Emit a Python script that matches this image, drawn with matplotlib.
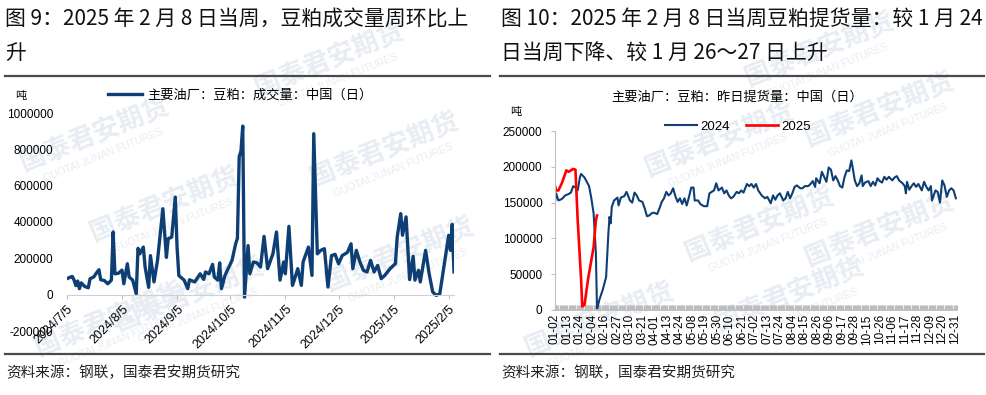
import matplotlib
matplotlib.use('Agg')
import matplotlib.pyplot as plt
from matplotlib.ticker import FuncFormatter
import pandas as pd

plt.rcParams['font.family'] = ['Liberation Sans', 'Noto Sans CJK SC']

NAVY = '#0e3f74'
RED = '#ff0000'
CJK = ['Noto Sans CJK SC', 'DejaVu Sans']

# ---- left: daily soymeal deal volume (t)
deal_dates = [
    '2024-07-05', '2024-07-07', '2024-07-08', '2024-07-09', '2024-07-10', '2024-07-11',
    '2024-07-12', '2024-07-13', '2024-07-15', '2024-07-17', '2024-07-18', '2024-07-20',
    '2024-07-22', '2024-07-23', '2024-07-24', '2024-07-26', '2024-07-28', '2024-07-30',
    '2024-07-31', '2024-08-01', '2024-08-03', '2024-08-05', '2024-08-06', '2024-08-08',
    '2024-08-09', '2024-08-11', '2024-08-13', '2024-08-14', '2024-08-15', '2024-08-17',
    '2024-08-18', '2024-08-20', '2024-08-21', '2024-08-23', '2024-08-25', '2024-08-28',
    '2024-08-30', '2024-08-31', '2024-09-02', '2024-09-04', '2024-09-05', '2024-09-06',
    '2024-09-09', '2024-09-11', '2024-09-12', '2024-09-15', '2024-09-18', '2024-09-20',
    '2024-09-21', '2024-09-23', '2024-09-25', '2024-09-26', '2024-09-28', '2024-09-29',
    '2024-09-30', '2024-10-02', '2024-10-06', '2024-10-08', '2024-10-09', '2024-10-10',
    '2024-10-11', '2024-10-12', '2024-10-13', '2024-10-15', '2024-10-16', '2024-10-18',
    '2024-10-20', '2024-10-22', '2024-10-24', '2024-10-26', '2024-10-29', '2024-10-31',
    '2024-11-02', '2024-11-04', '2024-11-05', '2024-11-07', '2024-11-09', '2024-11-10',
    '2024-11-12', '2024-11-14', '2024-11-15', '2024-11-18', '2024-11-20', '2024-11-21',
    '2024-11-23', '2024-11-25', '2024-11-27', '2024-11-29', '2024-12-01', '2024-12-03',
    '2024-12-05', '2024-12-07', '2024-12-10', '2024-12-12', '2024-12-13', '2024-12-15',
    '2024-12-17', '2024-12-19', '2024-12-21', '2024-12-23', '2024-12-25', '2024-12-27',
    '2024-12-29', '2024-12-31', '2025-01-03', '2025-01-06', '2025-01-07', '2025-01-09',
    '2025-01-10', '2025-01-12', '2025-01-14', '2025-01-16', '2025-01-17', '2025-01-19',
    '2025-01-20', '2025-01-23', '2025-01-25', '2025-01-27', '2025-01-29', '2025-01-31',
    '2025-02-05', '2025-02-06', '2025-02-07', '2025-02-08',
]
deal_volume = [
    88000, 97000, 100000, 80000, 50000, 75000,
    33000, 65000, 45000, 38000, 88000, 97000,
    125000, 137000, 82000, 78000, 60000, 80000,
    345000, 115000, 118000, 135000, 60000, 170000,
    97000, 80000, 5000, 255000, 225000, 262000,
    152000, 40000, 215000, 70000, 190000, 473000,
    205000, 308000, 317000, 537000, 262000, 105000,
    80000, 33000, 82000, 70000, 115000, 84000,
    125000, 115000, 167000, 97000, 80000, 175000,
    33000, 106000, 190000, 280000, 310000, 760000,
    790000, 928000, -13000, 270000, 115000, 180000,
    175000, 152000, 321000, 143000, 225000, 345000,
    80000, 180000, 115000, 376000, 51000, 80000,
    143000, 51000, 180000, 262000, 106000, 886000,
    225000, 244000, 253000, 42000, 215000, 222000,
    170000, 215000, 233000, 280000, 143000, 244000,
    180000, 134000, 125000, 189000, 125000, 161000,
    88000, 106000, 143000, 171000, 317000, 446000,
    327000, 428000, 83000, 211000, 80000, 134000,
    70000, 244000, 115000, 15000, -4000, 5000,
    327000, 244000, 387000, 125000,
]
deal_ticks = ['2024-07-05', '2024-08-05', '2024-09-05', '2024-10-05',
              '2024-11-05', '2024-12-05', '2025-01-05', '2025-02-05']
deal_tick_labels = ['2024/7/5', '2024/8/5', '2024/9/5', '2024/10/5',
                    '2024/11/5', '2024/12/5', '2025/1/5', '2025/2/5']

# ---- right: daily pickup volume (t), by observation number in the year
pick_labels = ['01-02', '01-13', '01-24', '02-04', '02-16', '02-27', '03-10', '03-21',
               '04-01', '04-13', '04-24', '05-08', '05-19', '05-30', '06-10', '06-21',
               '07-02', '07-13', '07-24', '08-04', '08-15', '08-26', '09-06', '09-17',
               '09-28', '10-15', '10-26', '11-06', '11-17', '11-28', '12-09', '12-20',
               '12-31']
obs_2024 = [0, 1, 3, 6, 9, 12, 14, 16, 18, 20, 22, 23, 26, 28, 30, 32, 34, 36, 37, 39,
            42, 45, 47, 48, 49, 50, 52, 55, 56, 58, 61, 63, 66, 68, 70, 72, 74, 77, 79, 81,
            83, 85, 87, 90, 92, 94, 96, 98, 100, 102, 104, 106, 108, 110, 112, 114, 116,
            118, 120, 122, 123, 126, 128, 131, 134, 136, 138, 140, 142, 144, 147, 149, 151,
            153, 155, 157, 160, 162, 164, 166, 169, 171, 173, 175, 177, 179, 182, 185, 187,
            190, 192, 194, 196, 198, 201, 203, 205, 207, 209, 211, 213, 216, 218, 220, 223,
            225, 227, 229, 230, 233, 235, 237, 239, 241, 243, 245, 247, 249, 251, 253, 255,
            257, 259, 261, 262, 264, 266, 268, 270, 271, 273, 276, 278, 280, 282, 284, 286,
            288, 290, 292, 294, 297, 299, 301, 303, 306, 308, 309, 310, 312, 314, 316, 318,
            320, 323, 325, 327, 329, 331, 332, 335, 337, 339, 341, 343, 345, 347, 349, 351,
            353]
pick_2024 = [151000, 163000, 153000, 155000, 160000, 162000, 164000, 173000, 171000,
             167000, 186000, 190000, 185000, 179000, 173000, 156000, 135000, 79000, 0,
             14000, 28000, 46000, 107000, 130000, 121000, 144000, 153000, 157000, 146000,
             157000, 159000, 165000, 153000, 150000, 164000, 160000, 153000, 151000,
             142000, 131000, 132000, 135000, 136000, 134000, 142000, 151000, 156000,
             165000, 160000, 163000, 170000, 159000, 151000, 156000, 148000, 156000,
             146000, 158000, 171000, 171000, 153000, 153000, 148000, 145000, 145000,
             163000, 165000, 167000, 177000, 167000, 171000, 163000, 167000, 160000,
             156000, 158000, 165000, 163000, 167000, 164000, 176000, 173000, 176000,
             171000, 176000, 167000, 160000, 156000, 158000, 149000, 160000, 154000,
             160000, 163000, 153000, 156000, 165000, 156000, 163000, 172000, 174000,
             170000, 170000, 173000, 173000, 176000, 180000, 172000, 184000, 177000,
             193000, 186000, 179000, 199000, 196000, 181000, 187000, 181000, 173000,
             171000, 186000, 195000, 194000, 209000, 200000, 181000, 173000, 177000,
             188000, 173000, 178000, 180000, 173000, 179000, 174000, 184000, 180000,
             178000, 186000, 182000, 186000, 181000, 185000, 187000, 181000, 177000,
             173000, 163000, 179000, 168000, 173000, 177000, 172000, 176000, 167000,
             179000, 172000, 167000, 173000, 153000, 167000, 165000, 150000, 181000,
             174000, 158000, 167000, 170000, 167000, 156000]
obs_2025 = [0, 1, 3, 6, 8, 10, 12, 14, 16, 18, 20, 23, 24, 26, 29, 34, 36, 37]
pick_2025 = [173000, 167000, 167000, 177000, 186000, 195000, 193000, 195000, 197000,
             196000, 125000, 42000, 5000, 7000, 42000, 88000, 125000, 132000]

fig = plt.figure(figsize=(9.87, 3.95), dpi=100)
W, H = 987.0, 395.0


def fx(px):
    return px / W


def fy(py):
    return 1 - py / H


# faint watermark, kept inside the canvas
marks = [(95, 135), (165, 205), (385, 150), (190, 295), (400, 255), (110, 320),
         (720, 140), (880, 110), (760, 225), (880, 230), (790, 295), (600, 320),
         (330, 60), (820, 50)]
for mx, my in marks:
    fig.text(fx(mx), fy(my), '国泰君安期货', fontsize=19, color='#e8edf3',
             rotation=22, ha='center', va='center', family=CJK, zorder=-2,
             fontweight='bold')
    fig.text(fx(mx + 8), fy(my + 20), 'GUOTAI JUNAN FUTURES', fontsize=7.5,
             color='#e8edf3', rotation=22, ha='center', va='center', zorder=-2)

# titles, rules, footers
title_kw = dict(fontsize=15, family=CJK, va='center', color='#111111')
fig.text(fx(5), fy(19), '图 9：2025 年 2 月 8 日当周，豆粕成交量周环比上', **title_kw)
fig.text(fx(5), fy(53), '升', **title_kw)
fig.text(fx(501), fy(19), '图 10：2025 年 2 月 8 日当周豆粕提货量：较 1 月 24', **title_kw)
fig.text(fx(501), fy(53), '日当周下降、较 1 月 26～27 日上升', **title_kw)
for x0, x1 in [(5, 490), (500, 984)]:
    for yy in (76, 354):
        fig.add_artist(plt.Line2D([fx(x0), fx(x1)], [fy(yy), fy(yy)],
                                  color='#4a4a4a', lw=1.6))
    fig.text(fx(x0 + 1), fy(373), '资料来源：钢联，国泰君安期货研究', fontsize=10.5,
             family=CJK, va='center', color='#222222')

plain = FuncFormatter(lambda v, _: f'{v:.0f}')

# ---- left chart
ax1 = fig.add_axes([fx(67), fy(331), fx(454) - fx(67), fy(113) - fy(331)])
ax1.set_facecolor('none')
d = pd.to_datetime(deal_dates)
ax1.plot(d, deal_volume, color=NAVY, lw=2.4, solid_joinstyle='round',
         label='主要油厂：豆粕：成交量：中国（日）')
ax1.set_ylim(-200000, 1000000)
ax1.set_yticks(range(-200000, 1000001, 200000))
ax1.yaxis.set_major_formatter(plain)
ax1.set_xlim(d[0], d[-1])
ax1.set_xticks(pd.to_datetime(deal_ticks))
ax1.set_xticklabels(deal_tick_labels)
for s in ['top', 'right', 'left']:
    ax1.spines[s].set_visible(False)
ax1.spines['bottom'].set_position(('data', 0))
ax1.spines['bottom'].set_color('#d0d0d0')
ax1.tick_params(axis='y', length=0, labelsize=8.5, pad=10)
ax1.tick_params(axis='x', length=3, color='#c0c0c0', labelsize=9, pad=3,
                labelrotation=45)
for lab in ax1.get_xticklabels():
    lab.set_ha('right')
    lab.set_va('top')
    lab.set_rotation_mode('anchor')
fig.text(fx(15), fy(96), '吨', fontsize=8, family=CJK, va='center')
fig.legend(handles=ax1.get_lines(), loc='center', frameon=False,
           bbox_to_anchor=(fx(240), fy(95)), prop={'family': CJK, 'size': 9.5},
           handlelength=2.6, handletextpad=0.4)

# ---- right chart
ax2 = fig.add_axes([fx(555), fy(310), fx(957) - fx(555), fy(131) - fy(310)])
ax2.set_facecolor('none')
ax2.plot(obs_2024, pick_2024, color=NAVY, lw=1.5, label='2024')
ax2.plot(obs_2025, pick_2025, color=RED, lw=1.9, label='2025')
ax2.set_ylim(0, 250000)
ax2.set_yticks(range(0, 250001, 50000))
ax2.yaxis.set_major_formatter(plain)
ax2.set_xlim(0, 354)
ax2.set_xticks(range(0, 11 * len(pick_labels), 11))
ax2.set_xticklabels(pick_labels, rotation=90)
ax2.set_xticks(range(0, 355), minor=True)
for s in ['top', 'right']:
    ax2.spines[s].set_visible(False)
ax2.spines['left'].set_color('#bfbfbf')
ax2.spines['bottom'].set_color('#bfbfbf')
ax2.spines['bottom'].set_linewidth(1.2)
ax2.tick_params(axis='x', which='both', direction='in', length=3.5, width=0.9,
                color='#bdbdbd', labelsize=8.5, pad=3)
ax2.tick_params(axis='y', length=3, color='#bfbfbf', labelsize=8.5, pad=6)
fig.text(fx(737), fy(97), '主要油厂：豆粕：昨日提货量：中国（日）', fontsize=9.5,
         family=CJK, ha='center', va='center')
fig.text(fx(510), fy(112), '吨', fontsize=8, family=CJK, va='center')
fig.legend(handles=ax2.get_lines(), loc='center', frameon=False, ncol=2,
           bbox_to_anchor=(fx(738), fy(127)), prop={'size': 9.5},
           handlelength=2.4, handletextpad=0.3, columnspacing=1.2)

fig.savefig('out.png', dpi=100)
